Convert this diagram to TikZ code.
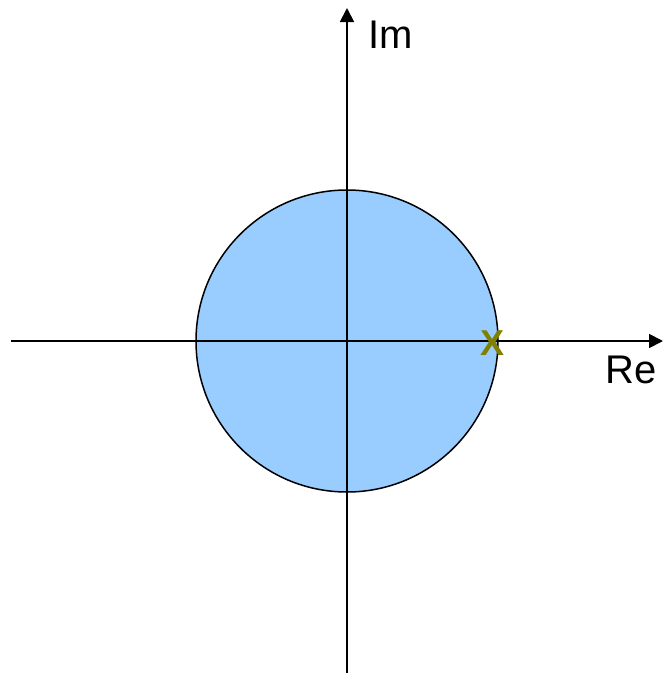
\documentclass[tikz,border=0pt]{standalone}
\usepackage{fontspec}
\setmainfont{Liberation Sans}
\usetikzlibrary{arrows.meta}
\definecolor{diskblue}{HTML}{99CCFF}
\definecolor{olivex}{HTML}{808000}
\begin{document}
\begin{tikzpicture}[x=1pt,y=-1pt,
  axis/.style={line width=1.8pt,-{Triangle[length=14pt,width=14pt]}},
  lbl/.style={inner sep=0pt,anchor=base west,font=\fontsize{40}{46}\selectfont}]
\useasboundingbox (0,0) rectangle (663,673);
\coordinate (O) at (347,341);
\filldraw[fill=diskblue,draw=black,line width=1.5pt] (O) circle (151);
\coordinate (xl) at (11,341);
\coordinate (xr) at (663,341);
\coordinate (yb) at (347,673);
\coordinate (yt) at (347,8);
\draw[axis] (xl) -- (xr);
\draw[axis] (yb) -- (yt);
\node[lbl] (im) at (368,48) {Im};
\node[lbl] (re) at (605,383) {Re};
\node[inner sep=0pt,text=olivex,font=\bfseries\fontsize{36}{44}\selectfont] (pole) at (493,343) {X};
\end{tikzpicture}
\end{document}
